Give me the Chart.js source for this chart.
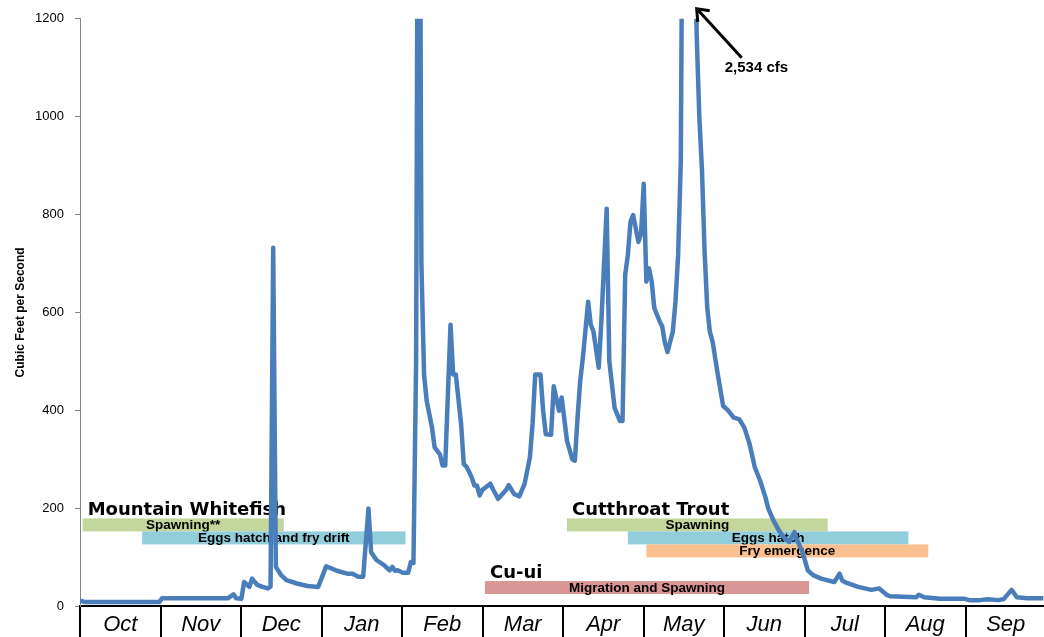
<!DOCTYPE html>
<html>
<head>
<meta charset="utf-8">
<script src="https://cdn.jsdelivr.net/npm/chart.js@4.4.1/dist/chart.umd.min.js"></script>
<style>
  html, body { margin: 0; padding: 0; background: #fff; overflow: hidden; }
</style>
</head>
<body>
<canvas id="flowChart" width="1046" height="637"></canvas>
<script>
// water year, day 0 = Oct 1
const months = ["Oct", "Nov", "Dec", "Jan", "Feb", "Mar", "Apr", "May", "Jun", "Jul", "Aug", "Sep"];
const yTicks = [0, 200, 400, 600, 800, 1000, 1200];

const flowDay = [
    0, 2, 30, 31, 56, 58, 59, 61, 62, 64, 65, 67, 69, 71, 72, 73, 74, 76, 78, 82,
    86, 90, 91, 93, 95, 97, 101, 103, 105, 107, 109, 110, 112, 115, 117, 118, 119, 120, 122, 124,
    125, 126, 127, 128, 129, 130, 131, 133, 134, 136, 137, 138, 140, 141, 142, 144, 145, 146, 148, 149,
    150, 151, 152, 155, 156, 158, 161, 162, 164, 166, 168, 170, 171, 172, 174, 175, 176, 178, 179, 181,
    182, 184, 186, 187, 188, 189, 190, 192, 193, 194, 196, 197, 199, 200, 202, 204, 205, 206, 207, 208,
    209, 211, 212, 213, 214, 215, 216, 217, 219, 220, 221, 222, 224, 225, 226, 227, 228, 229, 230, 231,
    232, 233, 234, 235, 236, 237, 238, 239, 241, 243, 245, 247, 249, 251, 253, 255, 257, 259, 260, 262,
    264, 266, 268, 270, 271, 273, 275, 277, 280, 285, 287, 288, 289, 294, 299, 302, 303, 305, 306, 311,
    316, 317, 319, 325, 334, 336, 340, 343, 347, 349, 352, 354, 358, 364
];
const flowCfs = [
    11, 8, 8, 16, 16, 24, 16, 15, 49, 39, 56, 43, 39, 36, 40, 732, 80, 63, 53, 46,
    41, 39, 53, 81, 77, 72, 66, 66, 60, 60, 199, 110, 94, 83, 73, 80, 72, 73, 68, 68,
    90, 88, 500, 2200, 700, 473, 419, 365, 324, 310, 287, 287, 575, 473, 473, 372, 290, 285, 263, 246,
    246, 226, 237, 250, 239, 219, 237, 247, 229, 224, 250, 304, 372, 473, 473, 399, 351, 350, 449, 399,
    426, 338, 300, 297, 385, 460, 507, 622, 575, 561, 487, 582, 812, 500, 405, 378, 378, 677, 717, 785,
    799, 744, 761, 863, 663, 690, 663, 609, 582, 571, 538, 519, 561, 622, 717, 907, 1800, 2200, 2534, 2000,
    1500, 1170, 1000, 893, 724, 610, 560, 541, 473, 409, 399, 385, 382, 365, 331, 283, 256, 222, 200, 175,
    155, 140, 131, 151, 134, 110, 73, 63, 56, 49, 66, 52, 49, 39, 33, 36, 31, 22, 20, 19,
    18, 23, 18, 15, 15, 12, 12, 14, 12, 14, 33, 18, 16, 16
];

const peakDay = 230;
const peakLabel = "2,534 cfs";

// life stage timing (days from Oct 1)
const stageGroup = ["Mountain Whitefish", "Mountain Whitefish", "Cutthroat Trout", "Cutthroat Trout", "Cutthroat Trout", "Cu-ui"];
const stageName = ["Spawning**", "Eggs hatch and fry drift", "Spawning", "Eggs hatch", "Fry emergence", "Migration and Spawning"];
const stageStart = [1, 23.5, 184, 207, 214, 153];
const stageEnd = [77, 123, 282.5, 313, 320.5, 275.5];

const stageColors = ["#c3d69b", "#92cddc", "#c3d69b", "#92cddc", "#fac090", "#d99694"];
const stageRow = [0, 1, 0, 1, 2, 0];
const groupTop = { "Mountain Whitefish": 179, "Cutthroat Trout": 179, "Cu-ui": 51 }; // cfs level of the first row's top edge

const stagePlugin = {
    id: "stages",
    beforeDatasetsDraw(chart) {
        const ctx = chart.ctx;
        const x = chart.scales.x, y = chart.scales.y;
        const rowH = 13;
        const seen = {};
        ctx.save();
        stageName.forEach((name, i) => {
            const g = stageGroup[i];
            const top = y.getPixelForValue(groupTop[g]) + stageRow[i] * rowH;
            const x0 = x.getPixelForValue(stageStart[i]);
            const x1 = x.getPixelForValue(stageEnd[i]);
            ctx.fillStyle = stageColors[i];
            ctx.fillRect(x0, top, x1 - x0, rowH);
            ctx.fillStyle = "#000";
            ctx.font = "bold 13.5px 'Liberation Sans', Arial, sans-serif";
            ctx.textAlign = "center";
            ctx.textBaseline = "alphabetic";
            ctx.fillText(name, (x0 + x1) / 2, top + rowH / 2 + 4);
            if (!seen[g]) {
                seen[g] = true;
                ctx.font = "bold 18px 'DejaVu Sans', Verdana, sans-serif";
                ctx.textAlign = "left";
                ctx.fillText(g, x0 + 5, top - 3);
            }
        });
        ctx.restore();
    },
    afterDatasetsDraw(chart) {
        const ctx = chart.ctx;
        const x = chart.scales.x;
        const tipX = x.getPixelForValue(peakDay) + 8;
        const tipY = chart.chartArea.top - 10;
        ctx.save();
        ctx.strokeStyle = "#000";
        ctx.lineWidth = 3;
        ctx.lineCap = "butt";
        ctx.beginPath();
        ctx.moveTo(tipX + 45, tipY + 49);
        ctx.lineTo(tipX + 1, tipY + 1);
        ctx.stroke();
        ctx.beginPath();
        ctx.moveTo(tipX + 1, tipY + 13);
        ctx.lineTo(tipX, tipY);
        ctx.lineTo(tipX + 13, tipY + 2);
        ctx.stroke();
        ctx.fillStyle = "#000";
        ctx.font = "bold 15px 'Liberation Sans', Arial, sans-serif";
        ctx.textAlign = "left";
        ctx.textBaseline = "alphabetic";
        ctx.fillText(peakLabel, tipX + 28, tipY + 63);
        ctx.restore();
    }
};

const ctx = document.getElementById("flowChart").getContext("2d");
const chart = new Chart(ctx, {
    type: "line",
    data: {
        datasets: [
            {
                label: "Flow",
                data: flowDay.map((d, i) => ({ x: d, y: flowCfs[i] })),
                borderColor: "#4a7ebb",
                borderWidth: 4.5,
                pointRadius: 0,
                tension: 0,
                borderJoinStyle: "round",
                clip: 0,
            },
        ],
    },
    options: {
        responsive: false,
        animation: false,
        layout: { padding: { top: 16, left: 0, right: 0, bottom: 0 } },
        plugins: {
            legend: { display: false },
            tooltip: { enabled: false },
        },
        scales: {
            x: {
                type: "linear",
                min: 0,
                max: 365,
                display: false,
            },
            months: {
                type: "category",
                labels: months,
                position: "bottom",
                offset: true,
                grid: {
                    offset: true,
                    drawOnChartArea: false,
                    drawTicks: true,
                    tickLength: 31,
                    color: "#000",
                    lineWidth: 2,
                },
                border: { display: true, color: "#000", width: 2 },
                ticks: {
                    color: "#000",
                    font: { family: "'Liberation Sans', Arial, sans-serif", size: 22, style: "italic" },
                    padding: -25,
                    maxRotation: 0,
                    autoSkip: false,
                },
                afterFit: (s) => { s.height = 31; },
            },
            y: {
                min: 0,
                max: 1200,
                afterBuildTicks: (s) => { s.ticks = yTicks.map((v) => ({ value: v })); },
                grid: {
                    drawOnChartArea: false,
                    drawTicks: true,
                    tickLength: 5,
                    color: "#868686",
                },
                border: { display: true, color: "#868686", width: 1 },
                ticks: {
                    color: "#000",
                    font: { family: "'Liberation Sans', Arial, sans-serif", size: 13 },
                    padding: 11,
                    callback: (v) => String(v),
                },
                title: {
                    display: true,
                    text: "Cubic Feet per Second",
                    color: "#000",
                    font: { family: "'Liberation Sans', Arial, sans-serif", size: 12, weight: "bold" },
                    padding: { top: 13, bottom: 0 },
                },
                afterFit: (s) => { s.width = 80; },
            },
        },
    },
    plugins: [stagePlugin],
});
</script>
</body>
</html>
